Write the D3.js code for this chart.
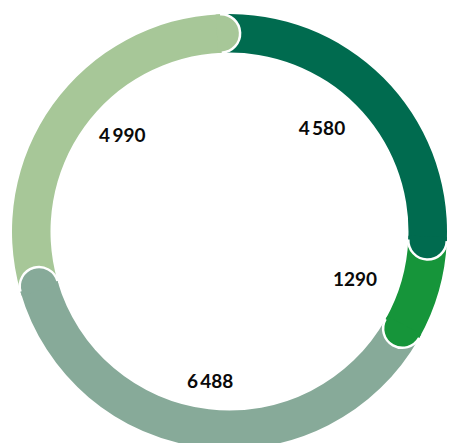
<!DOCTYPE html>
<html>
<head>
<meta charset="utf-8">
<script src="https://cdn.jsdelivr.net/npm/d3@7"></script>
<style>
  html, body { margin: 0; padding: 0; background: #fff; }
  svg { display: block; }
</style>
</head>
<body>
<div id="chart"></div>
<script>
// Segment values, clockwise from the top
const categories = ["A", "B", "C", "D"];
const values = [4580, 1290, 6488, 4990];
const valueLabels = ["4\u2009580", "1290", "6\u2009488", "4\u2009990"];
const colors = ["#006b4f", "#16953a", "#87aa99", "#a7c798"];

const width = 449, height = 443;
const cx = 229.5, cy = 231.5;
const rOuter = 217.5, rInner = 179;
const rotation = -2.5 * Math.PI / 180;

// small per-label offsets from the label-arc centroid
const labelShift = [[-8, -3], [-11, 9], [-3, 9], [8, -13]];

const svg = d3.select("#chart").append("svg")
  .attr("width", width).attr("height", height);
const g = svg.append("g").attr("transform", `translate(${cx},${cy})`);

const pie = d3.pie().sort(null).value(d => d)
  .startAngle(rotation).endAngle(rotation + 2 * Math.PI);
const arcs = pie(values);

const arc = d3.arc().innerRadius(rInner).outerRadius(rOuter);

// ring segments
g.selectAll("path.seg").data(arcs).join("path")
  .attr("class", "seg")
  .attr("d", arc)
  .attr("fill", (d, i) => colors[i]);

// rounded end caps, laid over the start of the following segment
const capR = (rOuter - rInner) / 2;
const pt = (r, a) => [r * Math.sin(a), -r * Math.cos(a)];
function capFill(a) {
  const back = 0.02; // tuck the cap slightly into its own segment to hide seams
  const [ox0, oy0] = pt(rOuter, a - back), [ox, oy] = pt(rOuter, a);
  const [ix, iy] = pt(rInner, a), [ix0, iy0] = pt(rInner, a - back);
  return `M${ox0},${oy0}L${ox},${oy}A${capR},${capR} 0 0 1 ${ix},${iy}L${ix0},${iy0}Z`;
}
function capEdge(a) {
  const [ox, oy] = pt(rOuter, a), [ix, iy] = pt(rInner, a);
  return `M${ox},${oy}A${capR},${capR} 0 0 1 ${ix},${iy}`;
}
const caps = g.selectAll("g.cap").data(arcs).join("g").attr("class", "cap");
caps.append("path")
  .attr("d", d => capFill(d.endAngle))
  .attr("fill", (d, i) => colors[i]);
caps.append("path")
  .attr("d", d => capEdge(d.endAngle))
  .attr("fill", "none")
  .attr("stroke", "#fff")
  .attr("stroke-width", 2.5);

// value labels inside the ring
const labelArc = d3.arc().innerRadius(142).outerRadius(142);
g.selectAll("text.val").data(arcs).join("text")
  .attr("class", "val")
  .attr("x", (d, i) => labelArc.centroid(d)[0] + labelShift[i][0])
  .attr("y", (d, i) => labelArc.centroid(d)[1] + labelShift[i][1])
  .attr("dy", "0.35em")
  .attr("text-anchor", "middle")
  .attr("font-family", "Lato, 'Open Sans', sans-serif")
  .attr("font-weight", 700)
  .attr("font-size", 19)
  .attr("fill", "#0a0a0a")
  .text((d, i) => valueLabels[i]);
</script>
</body>
</html>
